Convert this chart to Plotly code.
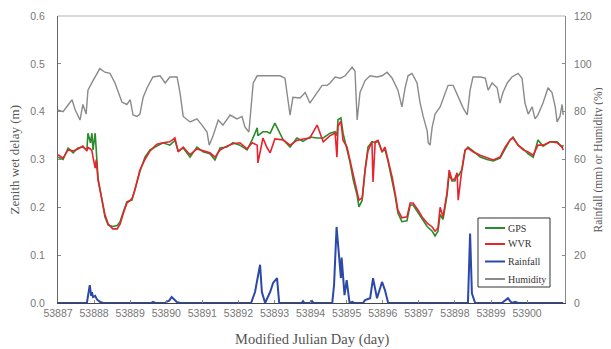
import plotly.graph_objects as go

# ---- data ----
day_ticks = [53887, 53888, 53889, 53890, 53891, 53892, 53893, 53894, 53895,
             53896, 53897, 53898, 53899, 53900]

zwd_mjd = [53887.00, 53887.14, 53887.28, 53887.42, 53887.55, 53887.69, 53887.80, 53887.83,
           53887.90, 53887.94, 53887.97, 53888.03, 53888.06, 53888.11, 53888.22, 53888.30,
           53888.39, 53888.52, 53888.64, 53888.72, 53888.80, 53888.91, 53889.05, 53889.13,
           53889.27, 53889.41, 53889.55, 53889.74, 53889.91, 53890.10, 53890.24, 53890.33,
           53890.47, 53890.66, 53890.85, 53891.02, 53891.21, 53891.35, 53891.49, 53891.68,
           53891.85, 53892.04, 53892.24, 53892.38, 53892.52, 53892.54, 53892.68, 53892.79,
           53892.88, 53893.01, 53893.24, 53893.43, 53893.62, 53893.79, 53893.98, 53894.18,
           53894.35, 53894.54, 53894.68, 53894.73, 53894.76, 53894.84, 53894.90, 53895.01,
           53895.09, 53895.18, 53895.29, 53895.34, 53895.43, 53895.51, 53895.59, 53895.70,
           53895.73, 53895.79, 53895.87, 53895.98, 53896.06, 53896.15, 53896.26, 53896.34,
           53896.42, 53896.53, 53896.67, 53896.76, 53896.84, 53896.98, 53897.09, 53897.23,
           53897.37, 53897.45, 53897.53, 53897.59, 53897.67, 53897.78, 53897.84, 53897.92,
           53898.00, 53898.06, 53898.09, 53898.20, 53898.28, 53898.36, 53898.50, 53898.70,
           53898.89, 53899.06, 53899.25, 53899.39, 53899.53, 53899.61, 53899.75, 53899.89,
           53900.03, 53900.17, 53900.30, 53900.44, 53900.64, 53900.83, 53900.97, 53901.00]

gps_zwd = [0.305, 0.300, 0.324, 0.314, 0.324, 0.326, 0.320, 0.355,
           0.335, 0.355, 0.320, 0.355, 0.320, 0.260, 0.215, 0.180,
           0.163, 0.160, 0.162, 0.170, 0.188, 0.212, 0.215, 0.236,
           0.275, 0.305, 0.320, 0.328, 0.335, 0.330, 0.340, 0.318,
           0.324, 0.305, 0.326, 0.316, 0.312, 0.299, 0.324, 0.326,
           0.335, 0.330, 0.320, 0.341, 0.366, 0.350, 0.358, 0.358,
           0.355, 0.376, 0.341, 0.326, 0.345, 0.338, 0.347, 0.345,
           0.345, 0.355, 0.358, 0.350, 0.383, 0.387, 0.355, 0.320,
           0.295, 0.258, 0.225, 0.201, 0.215, 0.278, 0.326, 0.337,
           0.337, 0.335, 0.338, 0.316, 0.322, 0.295, 0.258, 0.225,
           0.188, 0.170, 0.172, 0.205, 0.205, 0.188, 0.175, 0.160,
           0.150, 0.140, 0.150, 0.185, 0.175, 0.225, 0.270, 0.255,
           0.255, 0.270, 0.265, 0.280, 0.318, 0.326, 0.318, 0.305,
           0.300, 0.297, 0.303, 0.322, 0.341, 0.347, 0.330, 0.322,
           0.312, 0.305, 0.341, 0.328, 0.337, 0.337, 0.326, 0.330]

wvr_zwd = [0.310, 0.303, 0.320, 0.318, 0.322, 0.328, 0.318, 0.325,
           0.322, 0.318, 0.305, 0.282, 0.300, 0.257, 0.215, 0.185,
           0.165, 0.155, 0.155, 0.165, 0.185, 0.209, 0.218, 0.236,
           0.278, 0.300, 0.318, 0.332, 0.335, 0.337, 0.345, 0.316,
           0.326, 0.310, 0.322, 0.318, 0.314, 0.305, 0.320, 0.328,
           0.333, 0.335, 0.322, 0.335, 0.330, 0.293, 0.345, 0.325,
           0.314, 0.343, 0.341, 0.330, 0.340, 0.343, 0.345, 0.372,
           0.337, 0.350, 0.355, 0.305, 0.370, 0.380, 0.340, 0.326,
           0.299, 0.263, 0.230, 0.215, 0.220, 0.278, 0.318, 0.337,
           0.253, 0.337, 0.340, 0.316, 0.326, 0.299, 0.263, 0.230,
           0.194, 0.178, 0.180, 0.209, 0.209, 0.194, 0.180, 0.167,
           0.159, 0.150, 0.157, 0.200, 0.180, 0.230, 0.278, 0.257,
           0.260, 0.272, 0.215, 0.284, 0.320, 0.324, 0.316, 0.309,
           0.303, 0.299, 0.305, 0.326, 0.341, 0.345, 0.330, 0.320,
           0.316, 0.309, 0.330, 0.330, 0.337, 0.335, 0.326, 0.320]

hum_mjd = [53887.00, 53887.14, 53887.39, 53887.47, 53887.61, 53887.69, 53887.78, 53887.83,
           53887.97, 53888.16, 53888.30, 53888.44, 53888.58, 53888.77, 53888.91, 53889.00,
           53889.08, 53889.19, 53889.27, 53889.36, 53889.47, 53889.63, 53889.83, 53889.97,
           53890.10, 53890.30, 53890.38, 53890.47, 53890.66, 53890.85, 53890.99, 53891.13,
           53891.19, 53891.30, 53891.44, 53891.57, 53891.77, 53891.96, 53892.10, 53892.18,
           53892.29, 53892.41, 53892.52, 53892.79, 53893.15, 53893.29, 53893.38, 53893.43,
           53893.51, 53893.71, 53893.85, 53893.98, 53894.18, 53894.32, 53894.46, 53894.54,
           53894.68, 53894.82, 53894.96, 53895.15, 53895.23, 53895.29, 53895.37, 53895.51,
           53895.65, 53895.84, 53895.98, 53896.12, 53896.26, 53896.42, 53896.53, 53896.62,
           53896.70, 53896.81, 53896.95, 53897.03, 53897.12, 53897.23, 53897.26, 53897.31,
           53897.37, 53897.45, 53897.59, 53897.73, 53897.81, 53897.95, 53898.09, 53898.23,
           53898.34, 53898.42, 53898.50, 53898.70, 53898.84, 53898.92, 53899.03, 53899.17,
           53899.25, 53899.33, 53899.45, 53899.58, 53899.75, 53899.86, 53899.94, 53900.03,
           53900.14, 53900.22, 53900.30, 53900.44, 53900.58, 53900.69, 53900.78, 53900.83,
           53900.91, 53900.97, 53901.00]

humidity = [80.7, 80.0, 85.0, 81.0, 76.5, 83.0, 79.0, 89.0,
            93.0, 98.0, 96.5, 96.0, 92.0, 84.0, 83.0, 85.0,
            78.6, 78.0, 79.0, 86.0, 90.0, 94.5, 95.0, 92.0,
            94.5, 94.5, 88.0, 78.0, 75.7, 77.0, 74.4, 71.5,
            66.0, 70.0, 76.5, 74.4, 78.6, 77.0, 78.0, 73.6,
            71.5, 92.0, 95.0, 95.0, 95.0, 94.0, 85.0, 78.6,
            86.0, 85.7, 88.0, 83.6, 88.0, 91.0, 91.0, 92.0,
            94.5, 94.0, 95.0, 98.6, 97.0, 76.5, 88.0, 93.0,
            95.0, 94.5, 95.0, 96.5, 94.0, 89.0, 82.0, 90.0,
            95.0, 96.0, 92.0, 84.0, 78.0, 72.0, 67.0, 66.0,
            73.6, 79.0, 82.0, 88.0, 91.0, 91.0, 86.0, 81.5,
            78.6, 89.0, 94.5, 94.5, 94.0, 89.0, 92.0, 90.0,
            83.6, 88.0, 92.0, 94.5, 96.0, 94.0, 83.6, 79.0,
            82.0, 77.0, 78.6, 83.6, 90.0, 88.0, 82.0, 75.7,
            78.0, 83.0, 78.6]

rain_mjd = [53887.00, 53887.80, 53887.88, 53887.92, 53887.94, 53887.97, 53888.03, 53888.08,
            53888.16, 53888.25, 53889.58, 53889.63, 53889.70, 53889.96, 53890.02, 53890.08,
            53890.15, 53890.30, 53890.40, 53892.35, 53892.46, 53892.60, 53892.65, 53892.74,
            53892.88, 53892.96, 53893.07, 53893.13, 53893.75, 53893.79, 53893.83, 53893.98,
            53894.04, 53894.08, 53894.60, 53894.65, 53894.72, 53894.78, 53894.84, 53894.86,
            53894.94, 53895.00, 53895.08, 53895.16, 53895.22, 53895.45, 53895.51, 53895.65,
            53895.73, 53895.84, 53895.98, 53896.06, 53896.15, 53898.36, 53898.42, 53898.47,
            53898.56, 53899.30, 53899.36, 53899.47, 53899.53, 53899.58, 53899.67, 53899.75,
            53901.00]

rainfall = [0.0, 0.0, 7.5, 3.0, 4.5, 2.5, 3.0, 1.5,
            0.5, 0.0, 0.0, 0.5, 0.0, 0.0, 0.6, 1.0,
            2.5, 0.3, 0.0, 0.0, 4.6, 16.0, 4.6, 0.0,
            4.6, 8.4, 10.4, 0.0, 0.0, 0.8, 0.0, 0.0,
            0.8, 0.0, 0.0, 7.5, 31.8, 19.0, 10.4, 19.0,
            3.3, 9.6, 0.0, 0.5, 0.0, 0.0, 1.2, 2.0,
            10.4, 2.0, 8.8, 5.4, 0.0, 0.0, 29.0, 4.0,
            0.0, 0.0, 0.8, 2.0, 0.8, 0.0, 0.5, 0.0,
            0.0]

series_names = ["GPS", "WVR", "Rainfall", "Humidity"]
series_colors = ["#2a8c2e", "#e8232b", "#2c48a8", "#8a8a8a"]

# ---- figure ----
fig = go.Figure()
fig.add_trace(go.Scatter(x=hum_mjd, y=humidity, name="Humidity", mode="lines",
                         line=dict(color=series_colors[3], width=1.4), yaxis="y2"))
fig.add_trace(go.Scatter(x=zwd_mjd, y=gps_zwd, name="GPS", mode="lines",
                         line=dict(color=series_colors[0], width=1.6)))
fig.add_trace(go.Scatter(x=zwd_mjd, y=wvr_zwd, name="WVR", mode="lines",
                         line=dict(color=series_colors[1], width=1.6)))
fig.add_trace(go.Scatter(x=rain_mjd, y=rainfall, name="Rainfall", mode="lines",
                         line=dict(color=series_colors[2], width=2), yaxis="y2"))

tick_font = dict(family="Liberation Sans, Arial, sans-serif", size=10.5, color="#777777")
serif = "Liberation Serif, Times New Roman, serif"
title_col = "#555555"

# compact legend box (paper coordinates inside the plot area)
box_x0, box_x1, box_y0, box_y1 = 0.8284, 0.9704, 0.0557, 0.2962
entry_y = [0.2613, 0.2056, 0.1446, 0.0836]
shapes = [dict(type="line", xref="paper", yref="paper", x0=0, x1=1, y0=1, y1=1,
               line=dict(color="#cccccc", width=1.5)),
          dict(type="rect", xref="paper", yref="paper", x0=box_x0, x1=box_x1,
               y0=box_y0, y1=box_y1, fillcolor="white",
               line=dict(color="#333333", width=1), layer="above")]
annotations = []
for name, col, ey in zip(series_names, series_colors, entry_y):
    shapes.append(dict(type="line", xref="paper", yref="paper", x0=0.8422, x1=0.8817,
                       y0=ey, y1=ey, line=dict(color=col, width=2), layer="above"))
    annotations.append(dict(text=name, xref="paper", yref="paper", x=0.8830, y=ey,
                            xanchor="left", yanchor="middle", showarrow=False,
                            font=dict(family=serif, size=10, color="#333333")))

annotations += [
    dict(text="Zenith wet delay (m)", xref="paper", yref="paper",
         x=-0.085, y=0.5, textangle=-90, showarrow=False, xanchor="center", yanchor="middle",
         font=dict(family=serif, size=13, color=title_col)),
    dict(text="Rainfall (mm) or Humidity (%)", xref="paper", yref="paper",
         x=1.067, y=0.5, textangle=-90, showarrow=False, xanchor="center", yanchor="middle",
         font=dict(family=serif, size=11.5, color=title_col)),
    dict(text="Modified Julian Day (day)", xref="paper", yref="paper",
         x=0.5, y=-0.128, showarrow=False, xanchor="center", yanchor="middle",
         font=dict(family=serif, size=14.5, color=title_col)),
]

# the page body adds an 8px margin, so the figure is 8px smaller than the window
fig.update_layout(
    width=603, height=341,
    margin=dict(l=50, r=46, t=8, b=46),
    paper_bgcolor="white", plot_bgcolor="white",
    showlegend=False,
    xaxis=dict(range=[53887, 53901.05], tickvals=day_ticks,
               ticktext=[str(d) for d in day_ticks], automargin=False,
               showgrid=False, zeroline=False, showline=True, linecolor="#444444",
               linewidth=1, ticks="inside", ticklen=3, tickcolor="#888888",
               tickfont=tick_font),
    yaxis=dict(range=[0, 0.6], dtick=0.1, tickformat=".1f", automargin=False,
               showgrid=False, zeroline=False, showline=True, linecolor="#666666",
               linewidth=1, ticks="inside", ticklen=3, tickcolor="#888888",
               tickfont=tick_font, ticklabelstandoff=10),
    yaxis2=dict(range=[0, 120], dtick=20, overlaying="y", side="right", automargin=False,
                showgrid=False, zeroline=False, showline=True, linecolor="#888888",
                linewidth=1, ticks="inside", ticklen=3, tickcolor="#888888",
                tickfont=tick_font, ticklabelstandoff=6),
    shapes=shapes,
    annotations=annotations,
)

fig.write_html("out.html")
